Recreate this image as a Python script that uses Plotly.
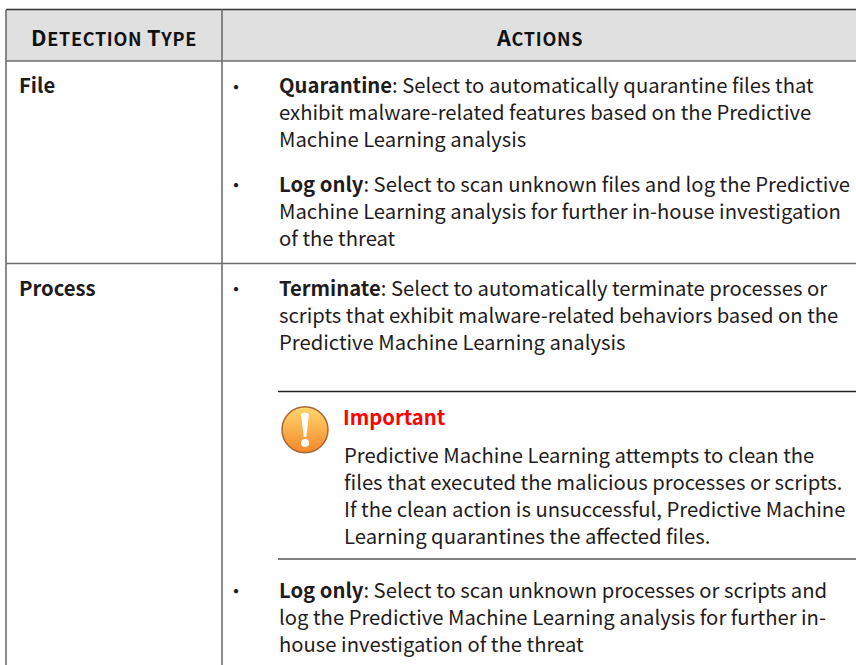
import plotly.graph_objects as go

W, H = 856, 665
FONT = "Noto Sans CJK SC"
INK = "#1f1c1d"
RULE = "#6d6d6d"

header_labels = [[("D", "ETECTION"), ("T", "YPE")], [("A", "CTIONS")]]
row_labels = ["File", "Process"]
bullet_blocks = [
    ["<b>Quarantine</b>: Select to automatically quarantine files that",
     "exhibit malware-related features based on the Predictive",
     "Machine Learning analysis"],
    ["<b>Log only</b>: Select to scan unknown files and log the Predictive",
     "Machine Learning analysis for further in-house investigation",
     "of the threat"],
    ["<b>Terminate</b>: Select to automatically terminate processes or",
     "scripts that exhibit malware-related behaviors based on the",
     "Predictive Machine Learning analysis"],
    ["<b>Log only</b>: Select to scan unknown processes or scripts and",
     "log the Predictive Machine Learning analysis for further in-",
     "house investigation of the threat"],
]
note_title = "Important"
note_lines = [
    "Predictive Machine Learning attempts to clean the",
    "files that executed the malicious processes or scripts.",
    "If the clean action is unsuccessful, Predictive Machine",
    "Learning quarantines the affected files.",
]

LH = 27
BODY = 20.25
block_tops = [84.8, 183.2, 287.5, 589.5]
note_top = 454.2
fig = go.Figure()
ann = []
def put(x, y, t, size=BODY, anchor="left", color=INK, **fkw):
    ann.append(dict(x=x, y=y, text=t, xref="x", yref="y", showarrow=False, xanchor=anchor,
                    yanchor="middle", align=anchor, borderpad=0,
                    font=dict(family=FONT, size=size, color=color, **fkw)))

def para(x, top, lines):
    # plotly spaces lines 1.3 em of the annotation font; the inner spans keep the body size
    body = "<br>".join(f'<span style="font-size:{BODY}px">{s}</span>' for s in lines)
    put(x, top + (len(lines) - 1) / 2 * LH, body, size=LH / 1.3)

def caps(words):
    parts = [f'<span style="font-size:21.7px">{a}</span><span style="font-size:18px">{b}</span>'
             for a, b in words]
    return '<span style="letter-spacing:0.7px"><b>' + " ".join(parts) + "</b></span>"

# header text
for cx, label in zip([114, 539], header_labels):
    put(cx, 36, caps(label), size=18, anchor="center", color="#111111")
# row labels
put(18, block_tops[0], f"<b>{row_labels[0]}</b>")
put(18, block_tops[2], f"<b>{row_labels[1]}</b>")
# bullets
for top, block in zip(block_tops, bullet_blocks):
    put(225, top + 1.2, "•", size=20)
    para(278, top, block)
# note
put(342, 416, f"<b>{note_title}</b>", color="#ff0000")
para(342.5, note_top, note_lines)

shapes = [
    dict(type="rect", x0=6, x1=W, y0=9.5, y1=61, fillcolor="#e0e0e0", line_width=0, layer="below"),
]
def ln(x0, y0, x1, y1, color=RULE, w=1.6):
    shapes.append(dict(type="line", x0=x0, y0=y0, x1=x1, y1=y1, line=dict(color=color, width=w)))
ln(6, 9.5, W, 9.5, "#333333")
ln(6, 61, W, 61)
ln(6, 263.5, W, 263.5)
ln(6, 9.5, 6, H)
ln(222, 9.5, 222, H)
ln(278, 391.5, W, 391.5, "#222222", 1.3)
ln(278, 559, W, 559, "#555555", 1.5)
# exclamation glyph of the note icon
shapes.append(dict(type="path", path="M 301 414 Q 305 411 309 414 L 306.3 437 L 303.7 437 Z",
                   fillcolor="white", line_width=0, layer="above"))
shapes.append(dict(type="circle", x0=301, x1=309, y0=439, y1=447, fillcolor="white",
                   line_width=0, layer="above"))

# note icon
fig.add_trace(go.Scatter(x=[305], y=[429.7], mode="markers", hoverinfo="skip",
                         marker=dict(size=46, color="#ffd86e",
                                     gradient=dict(type="vertical", color="#f5872a"),
                                     line=dict(color="#a8683a", width=1.5))))

fig.update_layout(width=W, height=H, margin=dict(l=0, r=0, t=0, b=0), showlegend=False,
                  paper_bgcolor="white", plot_bgcolor="white",
                  xaxis=dict(range=[0, W], visible=False, fixedrange=True),
                  yaxis=dict(range=[H, 0], visible=False, fixedrange=True),
                  annotations=ann, shapes=shapes)
fig.write_html("out.html", config=dict(displayModeBar=False),
               post_script="document.body.style.margin='0';document.body.style.overflow='hidden';")
